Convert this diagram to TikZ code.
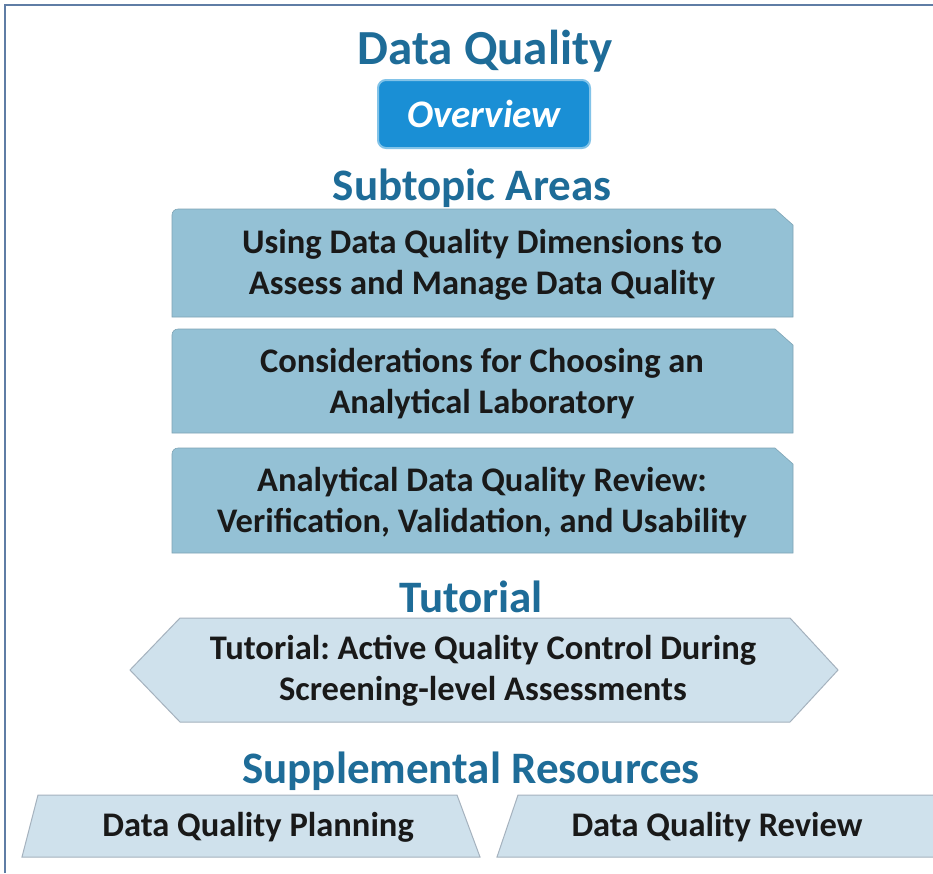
\documentclass[tikz,border=0pt]{standalone}
\usepackage{fontspec}
\setmainfont{Carlito}
\usetikzlibrary{positioning}
\frenchspacing

\definecolor{titleblue}{RGB}{30,108,152}
\definecolor{framegrey}{RGB}{95,125,165}
\definecolor{subfill}{RGB}{148,193,213}
\definecolor{tutfill}{RGB}{207,225,236}
\definecolor{tutedge}{RGB}{165,178,190}
\definecolor{ovfill}{RGB}{26,143,213}
\definecolor{ovedge}{RGB}{130,195,232}

\tikzset{
  heading/.style={anchor=base, text=titleblue, font=\fontsize{45}{50}\selectfont\bfseries},
  boxtext/.style={align=center, text=black!90, font=\fontsize{34.5}{41}\selectfont\bfseries},
  subbox/.style={fill=subfill, draw=subfill!85!black, line width=0.6pt},
  lightbox/.style={fill=tutfill, draw=tutedge, line width=1pt}
}

\begin{document}
\begin{tikzpicture}[x=1pt,y=-1pt]
  \useasboundingbox (0,0) rectangle (933,873);
  \fill[white] (0,0) rectangle (933,873);

  % frame
  \draw[framegrey, line width=2pt] (5,873) -- (5,5) -- (933,5);

  % overview button
  \draw[fill=ovfill, draw=ovedge, line width=2pt, rounded corners=8pt] (378,80) rectangle (590,148);

  % subtopic boxes
  \draw[subbox] (172,317) -- (172,215) [rounded corners=6pt] -- (172,209) [sharp corners] -- (775,209) -- (793,225) -- (793,317) -- cycle;
  \draw[subbox] (172,433) -- (172,335) [rounded corners=6pt] -- (172,329) [sharp corners] -- (775,329) -- (793,345) -- (793,433) -- cycle;
  \draw[subbox] (172,553) -- (172,454) [rounded corners=6pt] -- (172,448) [sharp corners] -- (775,448) -- (793,464) -- (793,553) -- cycle;

  % tutorial hexagon
  \draw[lightbox] (130,670) -- (180,618) -- (790,618) -- (838,670) -- (790,722) -- (180,722) -- cycle;

  % supplemental boxes
  \draw[lightbox] (38,795) -- (457,795) -- (480,857) -- (22,857) -- cycle;
  \draw[lightbox] (518,795) -- (940,795) -- (940,857) -- (497,857) -- cycle;

  % texts
  \node[heading, font=\fontsize{49}{54}\selectfont\bfseries] (title) at (485,64) {Data Quality};
  \node[anchor=base, text=white, font=\fontsize{39}{44}\selectfont\bfseries\itshape] (overview) at (484,127) {Overview};
  \node[heading] (subtopics) at (472,200) {Subtopic Areas};
  \node[boxtext] (dims) at (482,265) {Using Data Quality Dimensions to\\Assess and Manage Data Quality};
  \node[boxtext] (lab) at (482,384) {Considerations for Choosing an\\Analytical Laboratory};
  \node[boxtext] (review) at (482,503) {Analytical Data Quality Review:\\Verification, Validation, and Usability};
  \node[heading] (tuthead) at (471,612) {Tutorial};
  \node[boxtext] (tutorial) at (483,671) {Tutorial: Active Quality Control During\\Screening-level Assessments};
  \node[heading] (supphead) at (471,783) {Supplemental Resources};
  \node[boxtext] (planning) at (258,827) {Data Quality Planning};
  \node[boxtext] (dqreview) at (717,827) {Data Quality Review};
\end{tikzpicture}
\end{document}
